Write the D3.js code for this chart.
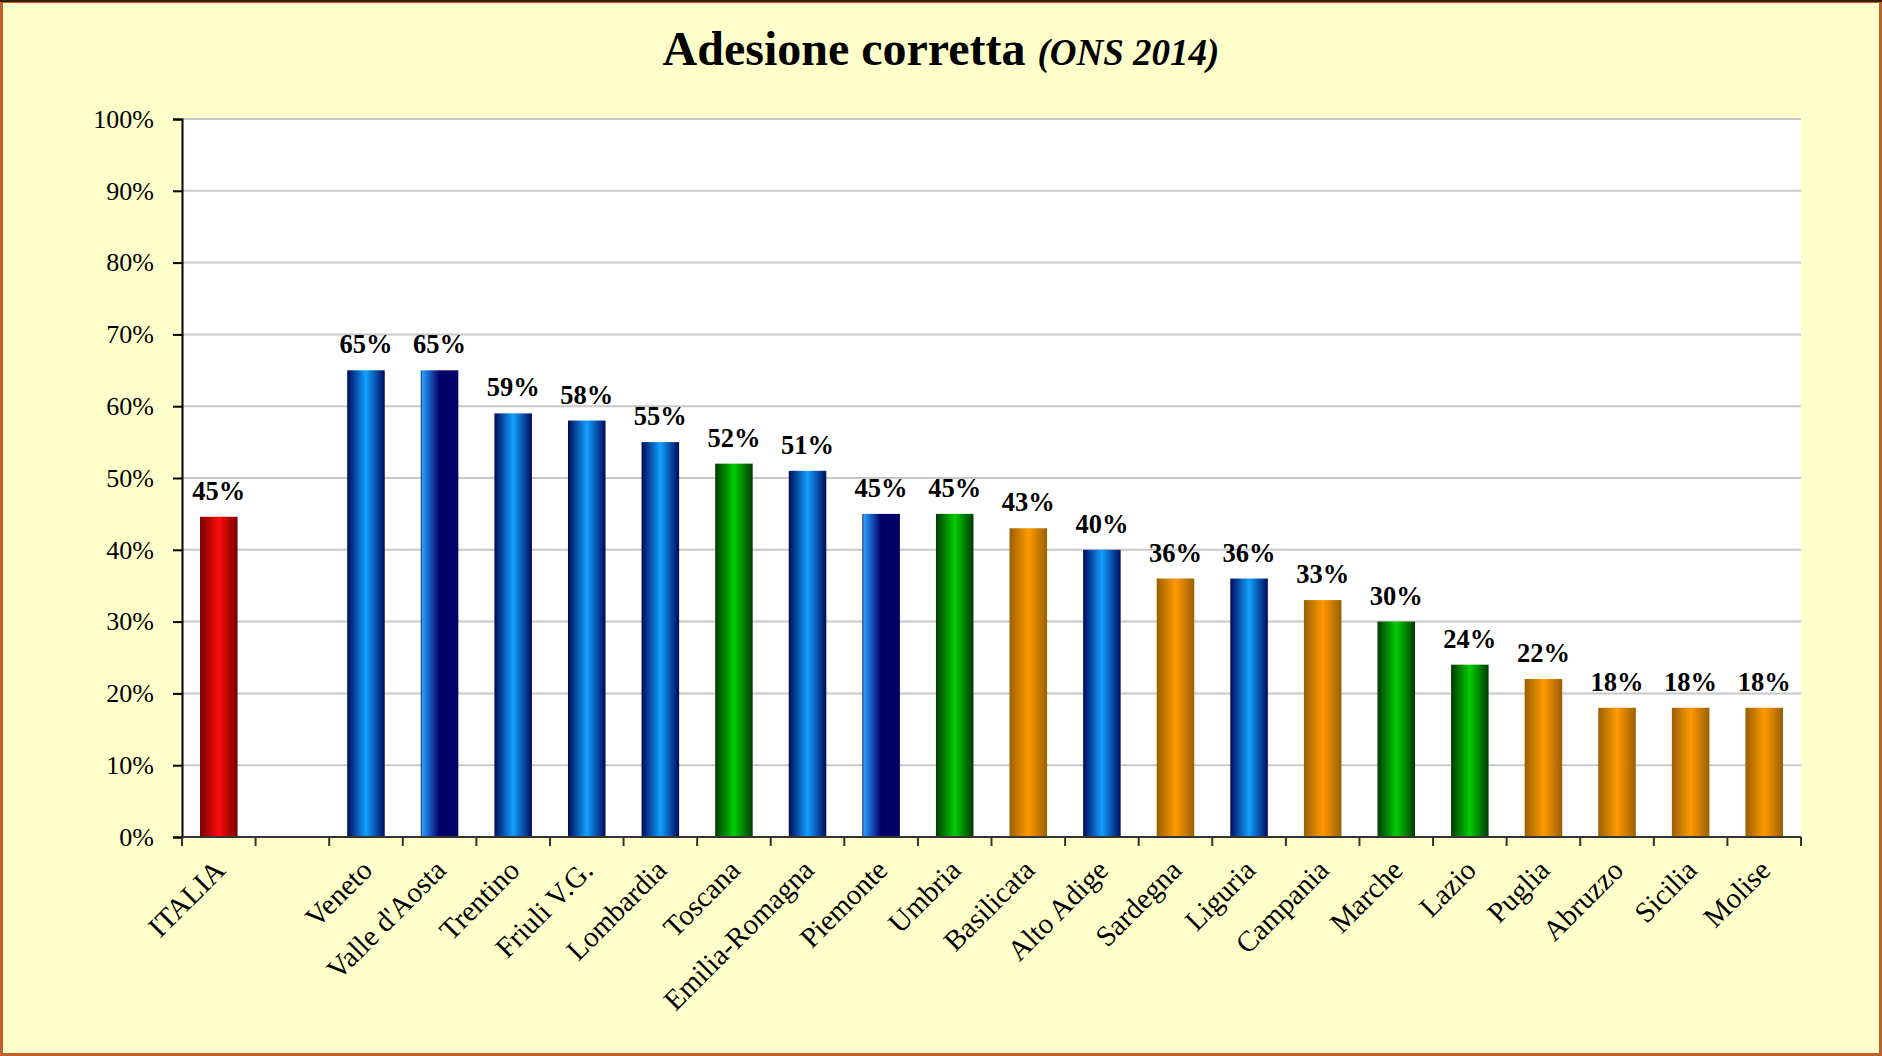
<!DOCTYPE html>
<html>
<head>
<meta charset="utf-8">
<script src="https://cdn.jsdelivr.net/npm/d3@7"></script>
<style>
  html, body { margin: 0; padding: 0; background: #FFFFCC; }
  svg { display: block; }
  text { font-family: "Liberation Serif", "Times New Roman", serif; fill: #000; }
</style>
</head>
<body>
<script>
// ---- data ----
const categories = ["ITALIA", "", "Veneto", "Valle d'Aosta", "Trentino", "Friuli V.G.", "Lombardia", "Toscana",
  "Emilia-Romagna", "Piemonte", "Umbria", "Basilicata", "Alto Adige", "Sardegna", "Liguria", "Campania",
  "Marche", "Lazio", "Puglia", "Abruzzo", "Sicilia", "Molise"];
const values = [44.6, null, 65, 65, 59, 58, 55, 52, 51, 45, 45, 43, 40, 36, 36, 33, 30, 24, 22, 18, 18, 18];
const groups = ["red", null, "blue", "blueAlt", "blue", "blue", "blue", "green", "blue", "blueAlt", "green",
  "orange", "blue", "orange", "blue", "orange", "green", "green", "orange", "orange", "orange", "orange"];
const yTicks = [0, 10, 20, 30, 40, 50, 60, 70, 80, 90, 100];
const titleMain = "Adesione corretta";
const titleSub = "(ONS 2014)";

// ---- layout ----
const W = 1882, H = 1056;
const plot = { left: 182, right: 1801, top: 119, bottom: 837 };

const svg = d3.select("body").append("svg").attr("width", W).attr("height", H);

// background + border
svg.append("rect").attr("x", 0).attr("y", 0).attr("width", W).attr("height", H).attr("fill", "#FFFFCC");
svg.append("rect").attr("x", 1.5).attr("y", 1.5).attr("width", W - 3).attr("height", H - 3)
  .attr("fill", "none").attr("stroke", "#C0602A").attr("stroke-width", 3);
svg.append("line").attr("x1", 0).attr("x2", W).attr("y1", 1).attr("y2", 1)
  .attr("stroke", "#3A1A05").attr("stroke-width", 2);

// gradients
const defs = svg.append("defs");
const gradDefs = {
  red: [[0, "#780000"], [0.5, "#FF0A0A"], [1, "#780000"]],
  blue: [[0, "#000A5C"], [0.5, "#12A0FF"], [1, "#000A5C"]],
  blueAlt: [[0, "#000A5C"], [0.04, "#2A9CFF"], [0.5, "#000066"], [1, "#000066"]],
  green: [[0, "#003A00"], [0.5, "#00CC00"], [1, "#003A00"]],
  orange: [[0, "#9A6000"], [0.5, "#FF9900"], [1, "#9A6000"]]
};
Object.entries(gradDefs).forEach(([k, stops]) => {
  const g = defs.append("linearGradient").attr("id", "g-" + k)
    .attr("x1", 0).attr("x2", 1).attr("y1", 0).attr("y2", 0);
  stops.forEach(([o, c]) => g.append("stop").attr("offset", o).attr("stop-color", c));
});

// scales
const x = d3.scaleBand().domain(categories.map((c, i) => i)).range([plot.left, plot.right])
  .paddingInner(0.49).paddingOuter(0.245);
const step = (plot.right - plot.left) / categories.length;
const y = d3.scaleLinear().domain([0, 100]).range([plot.bottom, plot.top]);

// plot area
svg.append("rect").attr("x", plot.left).attr("y", plot.top)
  .attr("width", plot.right - plot.left).attr("height", plot.bottom - plot.top).attr("fill", "#FFFFFF");

// gridlines
svg.append("g").selectAll("line").data(yTicks.filter(t => t > 0)).join("line")
  .attr("x1", plot.left).attr("x2", plot.right)
  .attr("y1", d => y(d)).attr("y2", d => y(d))
  .attr("stroke", "#C8C8C8").attr("stroke-width", 2);

// y axis
const yAxis = d3.axisLeft(y).tickValues(yTicks).tickFormat(d => d + "%").tickSize(9).tickPadding(19);
const ya = svg.append("g").attr("transform", `translate(${plot.left},0)`).call(yAxis);
ya.attr("font-family", "Liberation Serif");
ya.select(".domain").attr("stroke", "#000").attr("stroke-width", 2);
ya.selectAll(".tick line").attr("stroke", "#000").attr("stroke-width", 2);
ya.selectAll(".tick text").attr("font-size", 26).attr("font-family", "Liberation Serif").attr("fill", "#000");

// bars
const barData = categories.map((c, i) => ({ c, i, v: values[i], g: groups[i] })).filter(d => d.v != null);
svg.append("g").selectAll("rect").data(barData).join("rect")
  .attr("x", d => x(d.i)).attr("width", x.bandwidth())
  .attr("y", d => y(d.v)).attr("height", d => y(0) - y(d.v))
  .attr("fill", d => `url(#g-${d.g})`);

// data labels
svg.append("g").selectAll("text").data(barData).join("text")
  .attr("x", d => x(d.i) + x.bandwidth() / 2)
  .attr("y", d => y(d.v) - 17)
  .attr("text-anchor", "middle").attr("font-size", 26.5).attr("font-weight", "bold")
  .text(d => Math.round(d.v) + "%");

// x axis line
svg.append("line").attr("x1", plot.left).attr("x2", plot.right)
  .attr("y1", plot.bottom).attr("y2", plot.bottom)
  .attr("stroke", "#333").attr("stroke-width", 2);
// x ticks at category boundaries
const bounds = d3.range(categories.length + 1).map(i => plot.left + i * step);
svg.append("g").selectAll("line").data(bounds).join("line")
  .attr("x1", d => d).attr("x2", d => d)
  .attr("y1", plot.bottom).attr("y2", plot.bottom + 9)
  .attr("stroke", "#333").attr("stroke-width", 2);

// x labels
svg.append("g").selectAll("text").data(categories.map((c, i) => ({ c, i })).filter(d => d.c !== "")).join("text")
  .attr("transform", d => `translate(${x(d.i) + x.bandwidth() / 2 + 8},${plot.bottom + 35}) rotate(-45)`)
  .attr("text-anchor", "end").attr("font-size", 29)
  .text(d => d.c);

// title
const title = svg.append("text").attr("x", 941).attr("y", 65).attr("text-anchor", "middle");
title.append("tspan").attr("font-size", 48).attr("font-weight", "bold").text(titleMain + " ");
title.append("tspan").attr("font-size", 37).attr("font-weight", "bold").attr("font-style", "italic").text(titleSub);
</script>
</body>
</html>
